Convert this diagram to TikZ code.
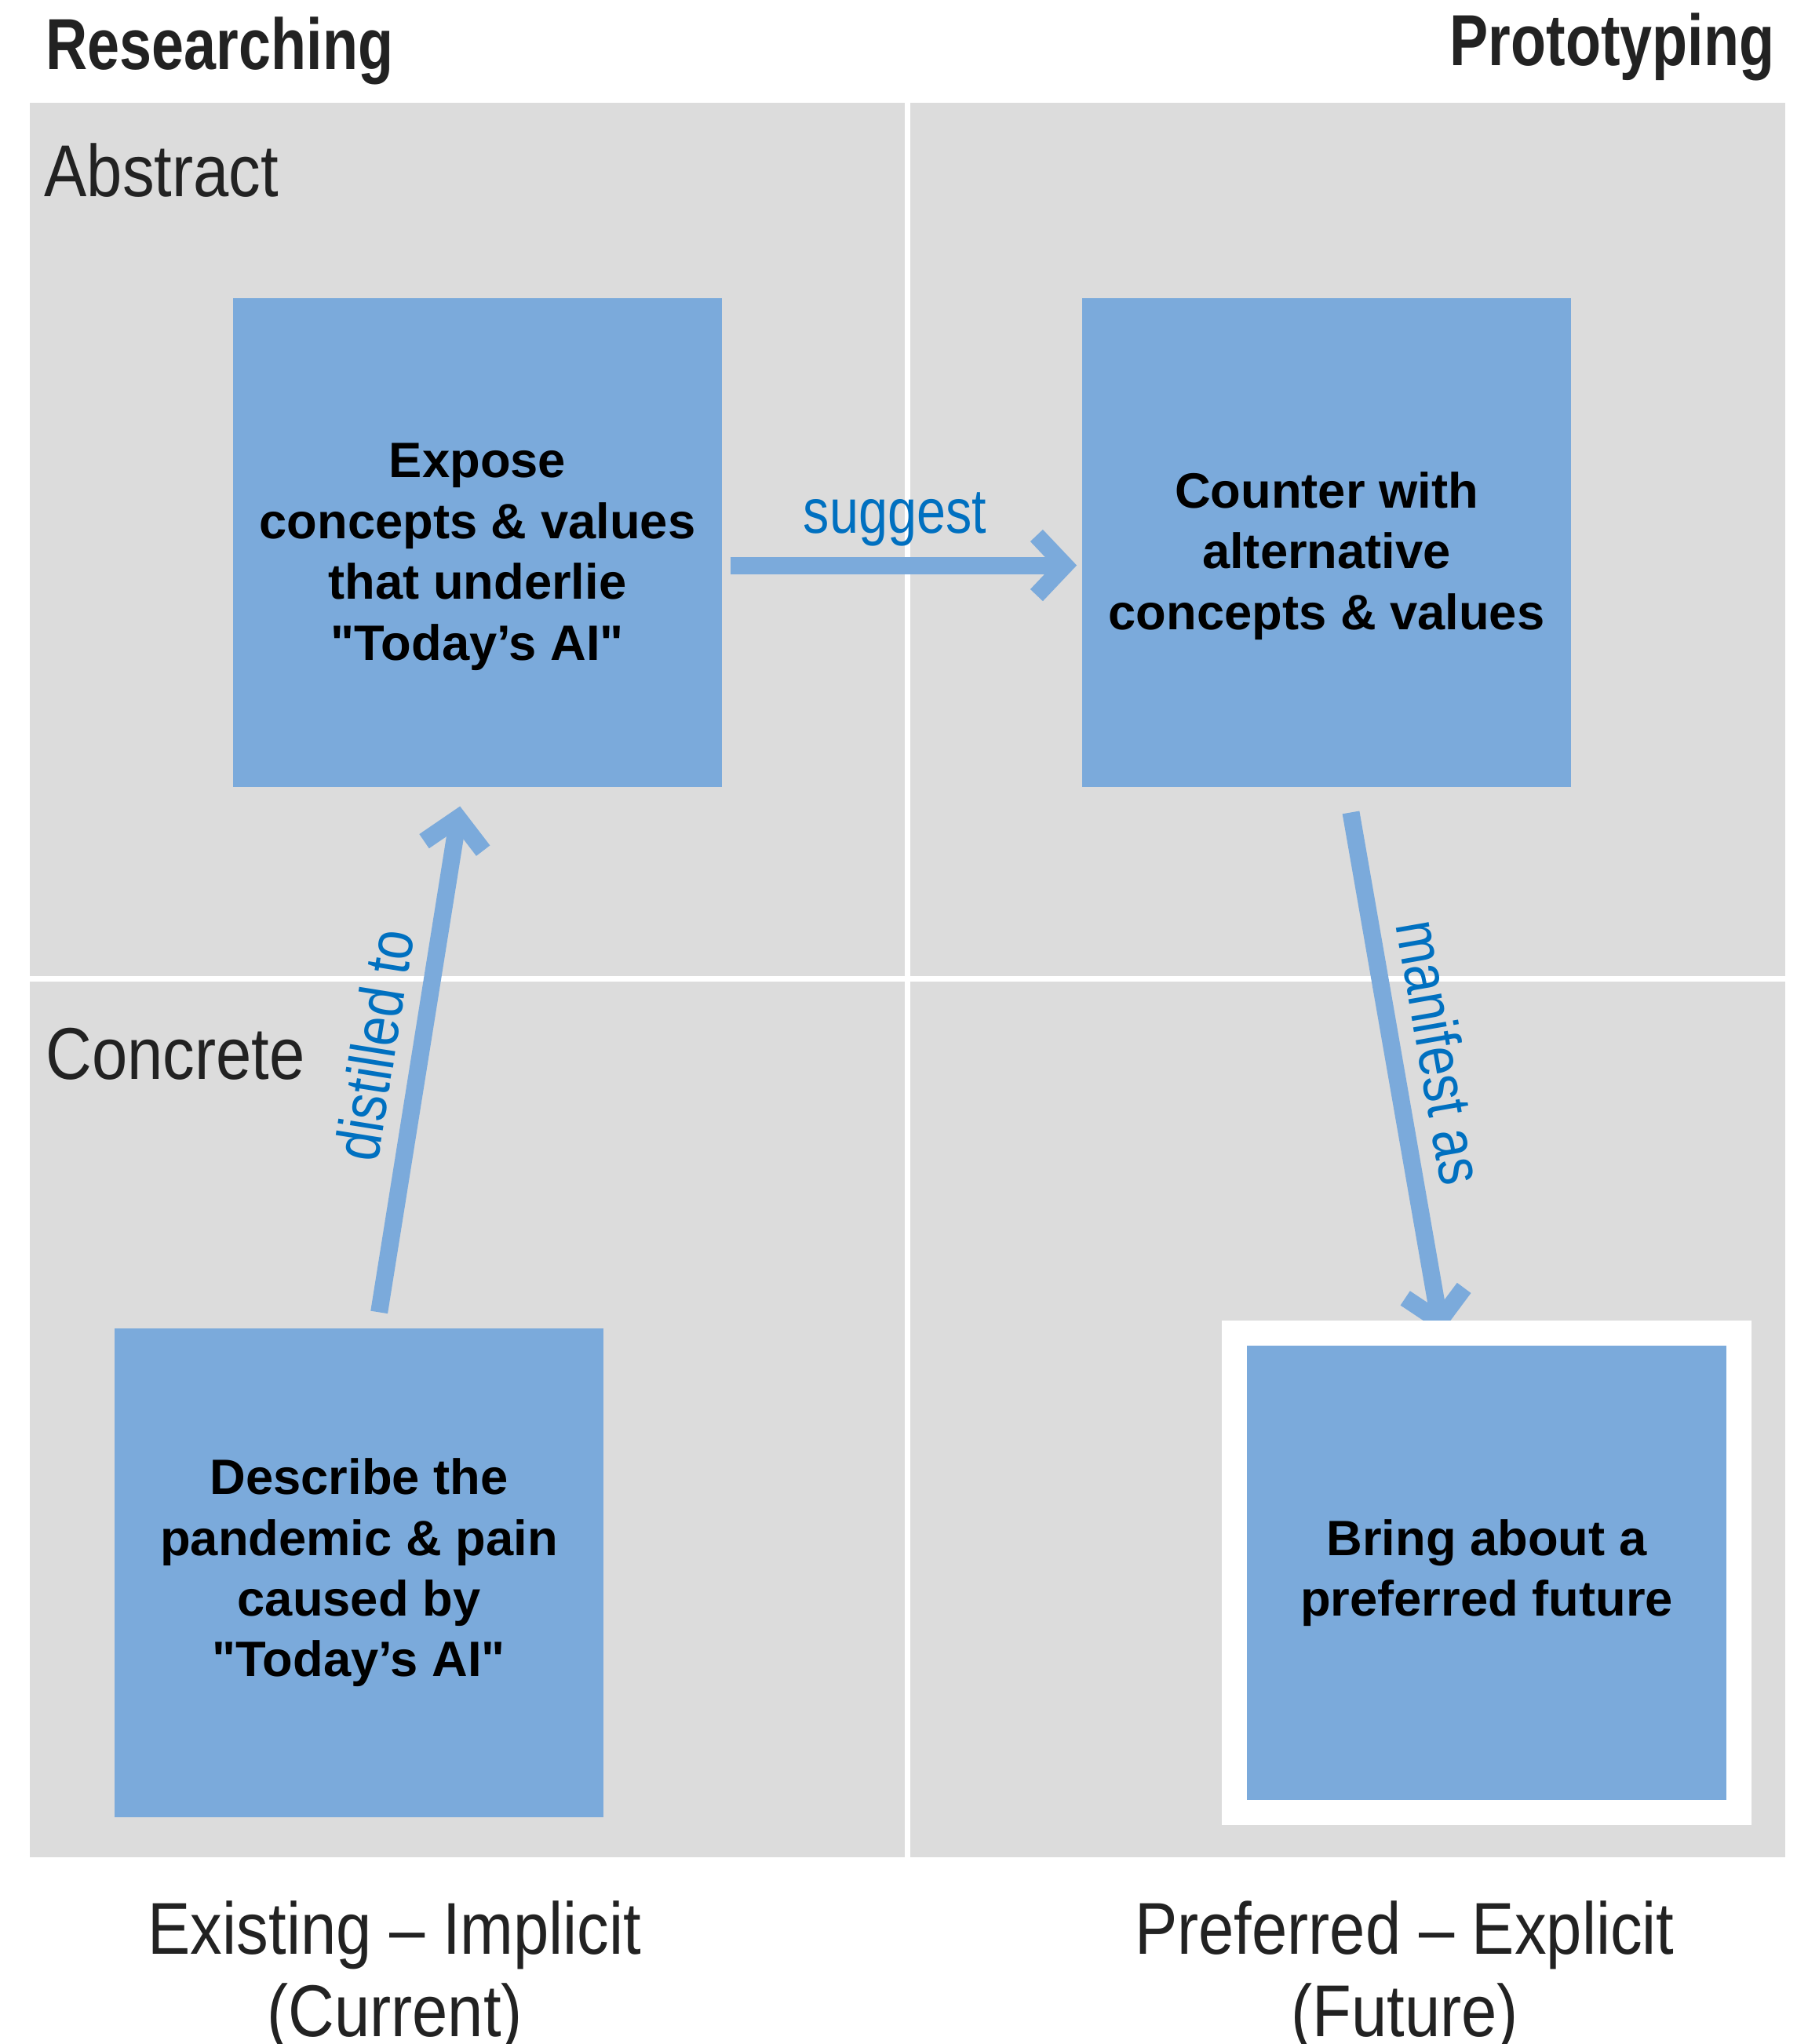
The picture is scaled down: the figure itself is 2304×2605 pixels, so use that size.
\documentclass[tikz,border=0pt]{standalone}
\usepackage{fontspec}
\setmainfont{Liberation Sans}[Ligatures=TeXOff]
\newfontfamily\narrowfont[FakeStretch=0.87]{Liberation Sans}
\newfontfamily\headfont[FakeStretch=0.8]{Liberation Sans}
\newfontfamily\tagfont[FakeStretch=0.83]{Liberation Sans}
\usetikzlibrary{arrows.meta}
\definecolor{boxblue}{RGB}{123,170,219}
\definecolor{panelgray}{RGB}{220,220,220}
\definecolor{tagblue}{RGB}{0,112,192}
\definecolor{inkgray}{RGB}{34,34,34}
\newcommand{\dropline}{\rule{0pt}{0.8cm}}
\pgfdeclarelayer{panel}
\pgfdeclarelayer{links}
\pgfsetlayers{panel,links,main}
\tikzset{
  stage/.style={fill=boxblue, minimum width=6.23cm, minimum height=6.23cm, inner sep=0pt,
    align=center, font=\bfseries\fontsize{18}{22}\selectfont},
  framed/.style={stage, draw=white, line width=0.32cm, minimum width=6.42cm, minimum height=6.10cm},
  flow/.style={draw=boxblue, line width=0.22cm, -{Straight Barb[length=0.36cm,width=0.76cm]}},
  tag/.style={text=tagblue, font=\tagfont\fontsize{22.8}{26}\selectfont, inner sep=0pt},
  phase/.style={text=inkgray, font=\headfont\bfseries\fontsize{26.2}{30}\selectfont, inner sep=0pt},
  level/.style={text=inkgray, font=\narrowfont\fontsize{26.6}{29.9}\selectfont, inner sep=0pt},
}
\begin{document}
\begin{tikzpicture}[x=0.01cm,y=-0.01cm]
\useasboundingbox (0,0) rectangle (2304,2605);

% quadrants
\begin{pgfonlayer}{panel}
\fill[white] (0,0) rectangle (2304,2605);
\fill[panelgray] (38,131) rectangle (2275,2367);
\draw[white, line width=0.07cm] (1156,131) -- (1156,2367);
\draw[white, line width=0.07cm] (38,1247) -- (2275,1247);
\end{pgfonlayer}

% headings
\node[phase, anchor=base west] (research) at (58,88) {Researching};
\node[phase, anchor=base east] (proto) at (2262,83) {Prototyping};
\node[level, anchor=base west] (abstract) at (56,250) {Abstract};
\node[level, anchor=base west] (concrete) at (58,1375) {Concrete};
\node[level, align=center, anchor=north] (existing) at (503,2422) {Existing – Implicit\\(Current)};
\node[level, align=center, anchor=north] (preferred) at (1790,2422) {Preferred – Explicit\\(Future)};

% steps
\node[stage] (expose) at (608.5,691.5) {\dropline Expose\\concepts \& values\\that underlie\\"Today’s AI"};
\node[stage] (counter) at (1690.5,691.5) {\dropline Counter with\\alternative\\concepts \& values};
\node[stage] (describe) at (457.5,2004.5) {Describe the\\pandemic \& pain\\caused by\\"Today’s AI"};
\node[framed] (bring) at (1894.5,2004.5) {Bring about a\\preferred future};

% links
\begin{pgfonlayer}{links}
\draw[flow, shorten <=0.1cm, shorten >=0.06cm] ([yshift=-0.29cm]expose.east) -- node[tag, pos=0.48, above=0.13cm] {suggest} ([yshift=-0.29cm]counter.west);
\draw[flow, shorten <=0.2cm, shorten >=0.24cm] ([xshift=0.225cm]describe.north) -- node[tag, sloped, pos=0.51, above=0.2cm] {distilled to} ([xshift=-0.185cm]expose.south);
\draw[flow, shorten <=0.32cm] ([xshift=0.255cm]counter.south) -- node[tag, sloped, pos=0.5, above=0.2cm] {manifest as} ([xshift=-0.575cm,yshift=-0.15cm]bring.north);
\end{pgfonlayer}
\end{tikzpicture}
\end{document}
